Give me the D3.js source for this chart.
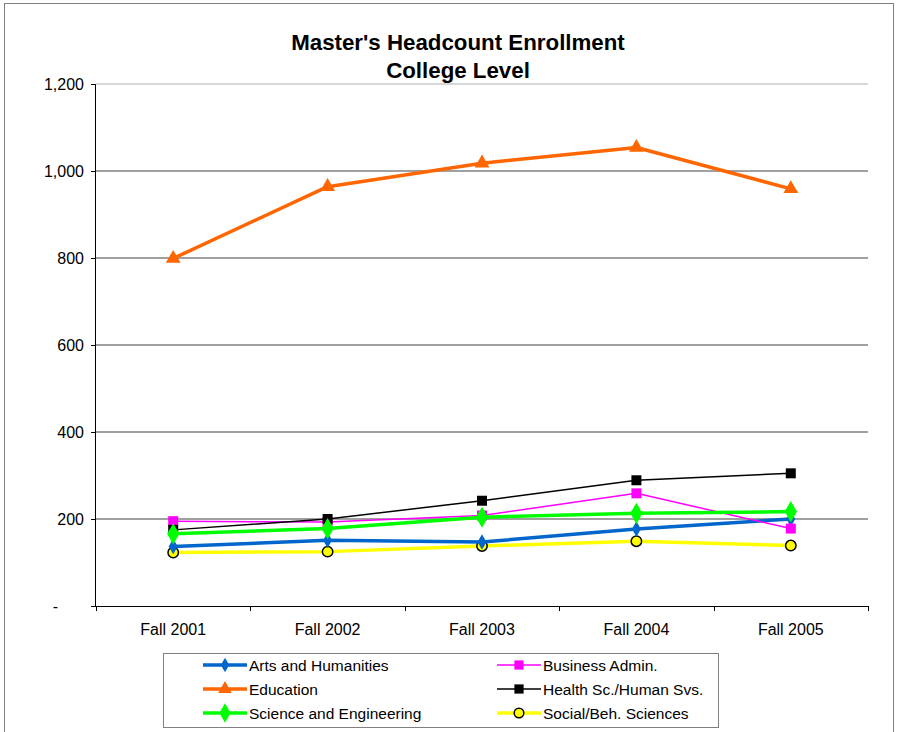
<!DOCTYPE html>
<html><head><meta charset="utf-8">
<script src="https://cdn.jsdelivr.net/npm/d3@7"></script>
<style>body{margin:0;background:#fff;font-family:"Liberation Sans",Arial,sans-serif;}</style>
</head><body><svg id="c" width="903" height="732"></svg>
<script>
const categories = ["Fall 2001","Fall 2002","Fall 2003","Fall 2004","Fall 2005"];
const arts = [137,151,147,177,200];
const business = [195,193,208,259,178];
const education = [799,964,1018,1054,959];
const health = [175,200,242,289,305];
const science = [166,178,204,213,217];
const social = [123,125,138,149,139];
const yTicks = [0,200,400,600,800,1000,1200];

(function(){
const series = [
  {name:"Arts and Humanities", values:arts, color:"#0066CC", width:3.5, marker:"diamond", msize:70, mfill:"#0066CC", mstroke:"none"},
  {name:"Business Admin.", values:business, color:"#FF00FF", width:1.5, marker:"square", msize:100, mfill:"#FF00FF", mstroke:"none"},
  {name:"Education", values:education, color:"#FF6600", width:3.5, marker:"triangle", msize:95, mfill:"#FF6600", mstroke:"none"},
  {name:"Health Sc./Human Svs.", values:health, color:"#000000", width:1.5, marker:"square", msize:100, mfill:"#000000", mstroke:"none"},
  {name:"Science and Engineering", values:science, color:"#00FF00", width:3.5, marker:"diamond", msize:130, mfill:"#00FF00", mstroke:"none"},
  {name:"Social/Beh. Sciences", values:social, color:"#FFFF00", width:3.5, marker:"circle", msize:85, mfill:"#FFFF00", mstroke:"#000"}
];
const drawOrder = [5,0,1,3,2,4].map(i=>series[i]);
const FF = "Liberation Sans, Arial, sans-serif";

const svg = d3.select("#c");
svg.append("rect").attr("x",4.5).attr("y",3.5).attr("width",889).attr("height",740).attr("fill","#fff").attr("stroke","#808080").attr("stroke-width",1);

const pL=96,pR=868,pT=84,pB=606;
const x = d3.scaleBand().domain(categories).range([pL,pR]);
const y = d3.scaleLinear().domain([0,1200]).range([pB,pT]);

const t = svg.append("text").attr("x",458).attr("text-anchor","middle").attr("font-weight","bold").attr("font-size",22.3).attr("font-family",FF);
t.append("tspan").attr("x",458).attr("y",50).text("Master's Headcount Enrollment");
t.append("tspan").attr("x",458).attr("y",78).text("College Level");

svg.append("g").selectAll("line").data(yTicks.filter(d=>d>0)).join("line")
  .attr("x1",pL).attr("x2",pR).attr("y1",d=>y(d)).attr("y2",d=>y(d))
  .attr("stroke",d=>d===1200?"#d8d8d8":"#a0a0a0").attr("stroke-width",2);

const yAxis = d3.axisLeft(y).tickValues(yTicks).tickSize(5).tickPadding(7)
  .tickFormat(d=>d===0?"-":d3.format(",")(d));
const ya = svg.append("g").attr("transform",`translate(${pL},0)`).call(yAxis);
ya.selectAll("text").attr("font-size",16).attr("font-family",FF).attr("fill","#000");
ya.select(".tick text").attr("dx",-26);
ya.select(".domain").attr("stroke","#000").attr("d",`M-0.5,${pT}V${pB}`);

const xa = svg.append("g").attr("transform",`translate(0,${pB})`).call(d3.axisBottom(x).tickSize(0).tickPadding(18));
xa.select(".domain").attr("d",`M${pL},0.5H${pR}`).attr("stroke","#000");
xa.selectAll("text").attr("font-size",16).attr("font-family",FF).attr("fill","#000");
const bounds = categories.map(c=>x(c)).concat([pR]);
xa.append("g").selectAll("line").data(bounds).join("line")
  .attr("x1",d=>Math.round(d)+0.5).attr("x2",d=>Math.round(d)+0.5).attr("y1",0).attr("y2",5).attr("stroke","#000");

const cx = c=>x(c)+x.bandwidth()/2;
const symType = {diamond:d3.symbolDiamond, square:d3.symbolSquare, triangle:d3.symbolTriangle, circle:d3.symbolCircle};
const line = d3.line().x((d,i)=>cx(categories[i])).y(d=>y(d));

drawOrder.forEach(s=>{
  const g = svg.append("g");
  g.append("path").attr("d",line(s.values)).attr("fill","none").attr("stroke",s.color).attr("stroke-width",s.width).attr("stroke-linejoin","round");
  g.selectAll("path.m").data(s.values).join("path").attr("class","m")
    .attr("transform",(d,i)=>`translate(${cx(categories[i])},${y(d)})`)
    .attr("d",d3.symbol().type(symType[s.marker]).size(s.msize))
    .attr("fill",s.mfill).attr("stroke",s.mstroke).attr("stroke-width",1.5);
});

const lg = svg.append("g");
lg.append("rect").attr("x",163.5).attr("y",653.5).attr("width",555).attr("height",74).attr("fill","#fff").attr("stroke","#808080");
series.forEach((s,i)=>{
  const col=i%2,row=Math.floor(i/2);
  const lx = col===0?203:497, ly=665+row*24;
  lg.append("line").attr("x1",lx).attr("x2",lx+44).attr("y1",ly).attr("y2",ly).attr("stroke",s.color).attr("stroke-width",s.width);
  lg.append("path").attr("transform",`translate(${lx+22},${ly})`).attr("d",d3.symbol().type(symType[s.marker]).size(s.msize*0.85))
    .attr("fill",s.mfill).attr("stroke",s.mstroke).attr("stroke-width",1.5);
  lg.append("text").attr("x",lx+46).attr("y",ly+5.5).attr("font-size",15.5).attr("font-family",FF).text(s.name);
});
})();
</script></body></html>
